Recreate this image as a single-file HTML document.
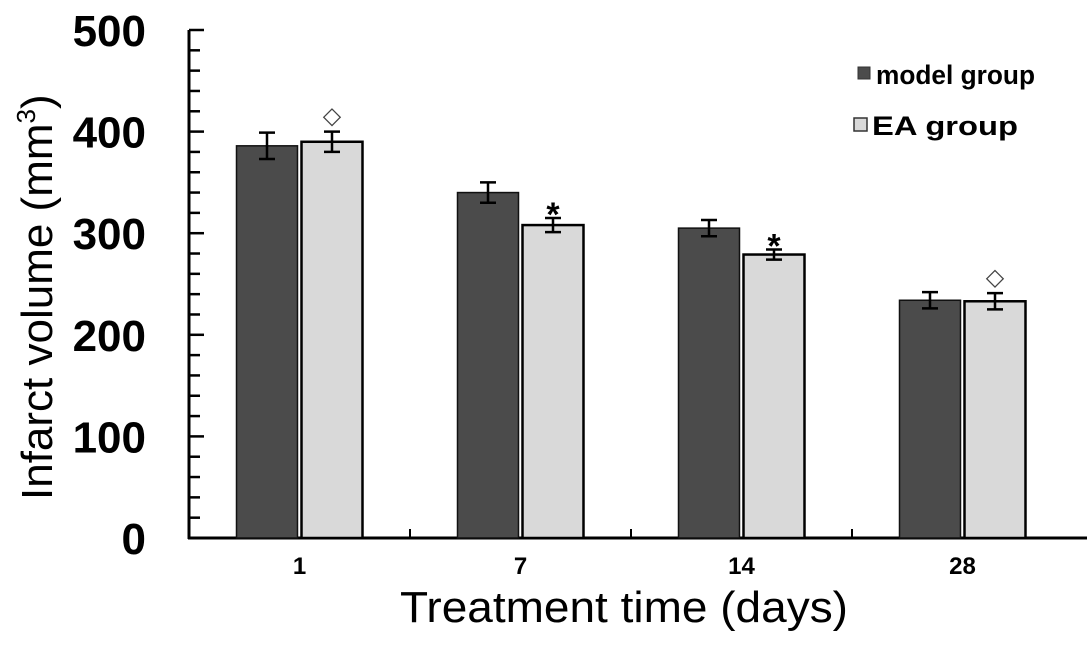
<!DOCTYPE html>
<html><head><meta charset="utf-8"><style>
html,body{margin:0;padding:0;background:#fff;}
svg{display:block;font-family:"Liberation Sans",Arial,sans-serif;}
</style></head><body>
<svg id="chart" width="1087" height="645"></svg>
<script>
const categories = ["1","7","14","28"];
const modelValues = [386, 340, 305, 234];
const modelErrors = [13, 10, 8, 8];
const eaValues = [390, 308, 279, 233];
const eaErrors = [10, 7, 5, 8];
const eaMarks = ["◇","*","*","◇"];
const yTicks = [0,100,200,300,400,500];

const NS="http://www.w3.org/2000/svg";
const svg=document.getElementById('chart');
const x0=189, y0=538, yTop=30, catW=221;
const y=v=>y0-(v/500)*(y0-yTop);
const cx=i=>x0+catW*(i+0.5);
function mk(tag,attrs,text){const e=document.createElementNS(NS,tag);for(const k in attrs)e.setAttribute(k,attrs[k]);if(text!==undefined)e.textContent=text;svg.appendChild(e);return e;}

let e=mk('line',{x1:x0,y1:yTop,x2:x0,y2:y0+1,stroke:'#000','stroke-width':3});


e=mk('line',{x1:x0-1,y1:y0,x2:1087,y2:y0,stroke:'#000','stroke-width':3});


for(let v=0;v<=500;v+=20){
  const maj=v%100===0;
  e=mk('line',{x1:x0,y1:y(v),x2:x0+(maj?15:11),y2:y(v),stroke:'#000','stroke-width':2.5});
  
  
}
yTicks.forEach(v=>{
  e=mk('text',{x:146,y:y(v)+16,'text-anchor':'end','font-size':44,'font-weight':'bold'},String(v));
  
  
});
for(let i=1;i<categories.length;i++){
  e=mk('line',{x1:x0+catW*i,y1:y0,x2:x0+catW*i,y2:y0-9,stroke:'#000','stroke-width':2});
  
  
}
const bw=61;
categories.forEach((c,i)=>{
  const c0=cx(i);
  e=mk('rect',{x:c0-bw-2,y:y(modelValues[i]),width:bw,height:y0-y(modelValues[i]),fill:'#4b4b4b',stroke:'#111','stroke-width':1.5});
  
  
  e=mk('rect',{x:c0+2,y:y(eaValues[i]),width:bw,height:y0-y(eaValues[i]),fill:'#d9d9d9',stroke:'#000','stroke-width':2.5});
  
  
  [[c0-bw/2-2,modelValues[i],modelErrors[i]],[c0+bw/2+2,eaValues[i],eaErrors[i]]].forEach(([bx,v,er])=>{
    const g=mk('path',{d:`M${bx},${y(v+er)}V${y(v-er)}M${bx-8},${y(v+er)}H${bx+8}M${bx-8},${y(v-er)}H${bx+8}`,stroke:'#000','stroke-width':2.5,fill:'none'});
    
    
  });
  const m=eaMarks[i];
  e=mk('text',{x:c0+bw/2+2,y:y(eaValues[i]+eaErrors[i])-(m==='*'?-8:8),'text-anchor':'middle','font-size':m==='*'?34:24,'font-weight':m==='*'?'bold':'normal',fill:m==='*'?'#000':'#444'},m);
  
  
  e=mk('text',{x:c0,y:574,'text-anchor':'middle','font-size':24,'font-weight':'bold'},c);
  
  
});
e=mk('text',{x:400,y:622,'font-size':44,textLength:448,lengthAdjust:'spacingAndGlyphs'},'Treatment time (days)');


e=mk('text',{transform:'translate(52,500) rotate(-90)','font-size':44},'Infarct volume (mm');


const ts=document.createElementNS(NS,'tspan');ts.setAttribute('font-size',26);ts.setAttribute('dy',-17);ts.textContent='3';e.appendChild(ts);
const ts2=document.createElementNS(NS,'tspan');ts2.setAttribute('dy',17);ts2.textContent=')';e.appendChild(ts2);
e=mk('rect',{x:858,y:67,width:12,height:12,fill:'#4b4b4b',stroke:'#333','stroke-width':1});


e=mk('text',{x:876,y:84,'font-size':27,'font-weight':'bold',textLength:159,lengthAdjust:'spacingAndGlyphs'},'model group');


e=mk('rect',{x:854,y:118,width:13,height:13,fill:'#d9d9d9',stroke:'#333','stroke-width':1.5});


e=mk('text',{x:872,y:135,'font-size':27,'font-weight':'bold',textLength:146,lengthAdjust:'spacingAndGlyphs'},'EA group');


</script>
</body></html>
